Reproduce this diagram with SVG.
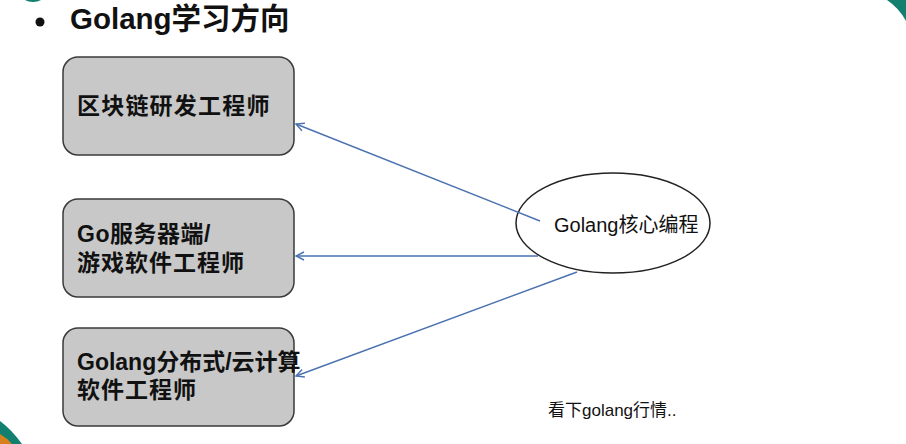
<svg xmlns="http://www.w3.org/2000/svg" width="906" height="444" viewBox="0 0 906 444">
<defs>
<style>
.box{fill:#c8c8c8;stroke:#3a3a3a;stroke-width:1.5}
.bt{font-family:"Liberation Sans","Noto Sans CJK SC",sans-serif;font-weight:bold;font-size:23px;fill:#111}
.conn{stroke:#4a72b0;stroke-width:1.4;fill:none;marker-end:url(#arr)}
.lt{font-family:"Liberation Sans","Noto Sans CJK SC",sans-serif;fill:#111}
</style>
<marker id="arr" viewBox="0 0 10 10" refX="9" refY="5" markerWidth="10" markerHeight="10" orient="auto" markerUnits="userSpaceOnUse">
<path d="M1,1 L9,5 L1,9" fill="none" stroke="#4a72b0" stroke-width="1.4"/>
</marker>
</defs>
<rect width="906" height="444" fill="#ffffff"/>
<g id="decor">
<ellipse cx="33" cy="-9" rx="14" ry="11" fill="#137f6f"/>
<path d="M887 0 Q899 8 906 21 L906 0 Z" fill="#137f6f"/>
<path d="M0 421 Q12 430 22 444 L0 444 Z" fill="#137f6f"/>
<path d="M0 434 Q7 438 12 444 L0 444 Z" fill="#d9801e"/>
</g>
<g id="title">
<circle cx="40" cy="22" r="4.5" fill="#111"/>
<text x="70" y="29" class="lt" font-size="29.5" font-weight="bold">Golang学习方向</text>
</g>
<g id="node-blockchain">
<rect class="box" x="63" y="57" width="231" height="98" rx="15"/>
<text class="bt" x="77" y="114" letter-spacing="1.2">区块链研发工程师</text>
</g>
<g id="node-server">
<rect class="box" x="63" y="199" width="231" height="98" rx="15"/>
<text class="bt" x="77" y="242" letter-spacing="0.5">Go服务器端/</text>
<text class="bt" x="77" y="271" letter-spacing="1">游戏软件工程师</text>
</g>
<g id="node-cloud">
<rect class="box" x="63" y="328" width="231" height="98" rx="15"/>
<text class="bt" x="77" y="370">Golang分布式/云计算</text>
<text class="bt" x="77" y="398" letter-spacing="1">软件工程师</text>
</g>
<g id="node-core">
<ellipse cx="613" cy="223" rx="97" ry="50" fill="#ffffff" stroke="#222" stroke-width="1.5"/>
<text class="lt" x="554" y="232" font-size="20">Golang核心编程</text>
</g>
<g id="connectors">
<line class="conn" x1="540" y1="221" x2="296" y2="124"/>
<line class="conn" x1="538" y1="256" x2="296" y2="256"/>
<line class="conn" x1="577" y1="272" x2="296" y2="376"/>
</g>
<g id="note">
<text class="lt" x="548" y="416" font-size="17">看下golang行情..</text>
</g>
</svg>
